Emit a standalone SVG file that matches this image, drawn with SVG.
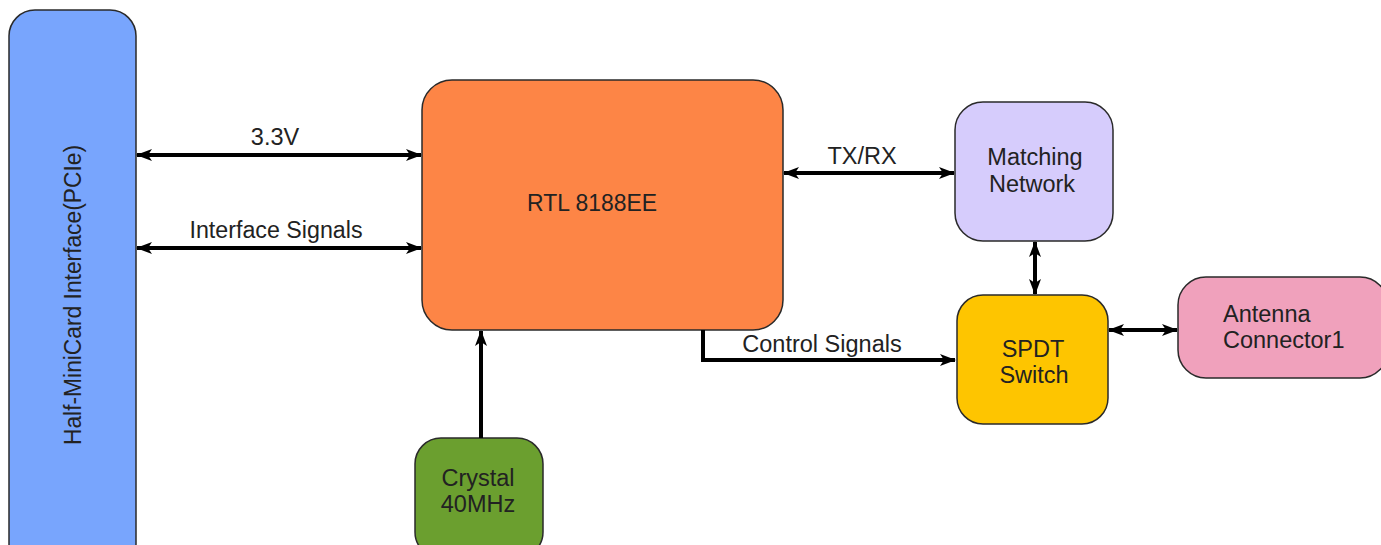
<svg xmlns="http://www.w3.org/2000/svg" width="1381" height="545" viewBox="0 0 1381 545">
<style>
.n{stroke:#2a2a2a;stroke-width:1.5}
.t{font-family:"Liberation Sans",Arial,sans-serif;font-size:23.5px;fill:#222;text-anchor:middle}
.c{fill:none;stroke:#000;stroke-width:4}
</style>
<defs>
<marker id="ah" viewBox="0 0 16 12" refX="15" refY="6" markerWidth="16" markerHeight="12" markerUnits="userSpaceOnUse" orient="auto-start-reverse">
<path d="M0,0 L16,6 L0,12 L4,6 z" fill="#000"/>
</marker>
</defs>
<rect width="1381" height="545" fill="#fff"/>
<g id="pcie">
<rect class="n" x="9" y="10" width="127" height="560" rx="26" fill="#78a5fd"/>
<text class="t" transform="translate(81,295) rotate(-90)" textLength="300" lengthAdjust="spacingAndGlyphs">Half-MiniCard Interface(PCIe)</text>
</g>
<g id="rtl">
<rect class="n" x="422" y="80" width="361" height="250" rx="30" fill="#fd8546"/>
<text class="t" x="592" y="211" textLength="130" lengthAdjust="spacingAndGlyphs">RTL 8188EE</text>
</g>
<g id="matching">
<rect class="n" x="955" y="102" width="158" height="139" rx="28" fill="#d6ccfc"/>
<text class="t" x="1035" y="165">Matching</text>
<text class="t" x="1032" y="192">Network</text>
</g>
<g id="spdt">
<rect class="n" x="957" y="295" width="151" height="129" rx="26" fill="#fec500"/>
<text class="t" x="1033" y="357">SPDT</text>
<text class="t" x="1034" y="383">Switch</text>
</g>
<g id="antenna">
<rect class="n" x="1178" y="277" width="210" height="101" rx="28" fill="#f0a1bc"/>
<text class="t" x="1223" y="322" style="text-anchor:start">Antenna</text>
<text class="t" x="1223" y="348" style="text-anchor:start">Connector1</text>
</g>
<g id="crystal">
<rect class="n" x="415" y="438" width="128" height="120" rx="26" fill="#6b9f2f"/>
<text class="t" x="478" y="486">Crystal</text>
<text class="t" x="478" y="512">40MHz</text>
</g>
<g id="connectors">
<line class="c" x1="137" y1="155" x2="421" y2="155" marker-start="url(#ah)" marker-end="url(#ah)"/>
<text class="t" x="275" y="145">3.3V</text>
<line class="c" x1="137" y1="248" x2="421" y2="248" marker-start="url(#ah)" marker-end="url(#ah)"/>
<text class="t" x="276" y="238" textLength="173" lengthAdjust="spacingAndGlyphs">Interface Signals</text>
<line class="c" x1="784" y1="173" x2="954" y2="173" marker-start="url(#ah)" marker-end="url(#ah)"/>
<text class="t" x="862" y="164">TX/RX</text>
<line class="c" x1="1035" y1="242" x2="1035" y2="294" marker-start="url(#ah)" marker-end="url(#ah)"/>
<line class="c" x1="1109" y1="330" x2="1177" y2="330" marker-start="url(#ah)" marker-end="url(#ah)"/>
<polyline class="c" points="703,330 703,360 955,360" marker-end="url(#ah)"/>
<text class="t" x="822" y="352">Control Signals</text>
<line class="c" x1="481" y1="438" x2="481" y2="331" marker-end="url(#ah)"/>
</g>
</svg>
